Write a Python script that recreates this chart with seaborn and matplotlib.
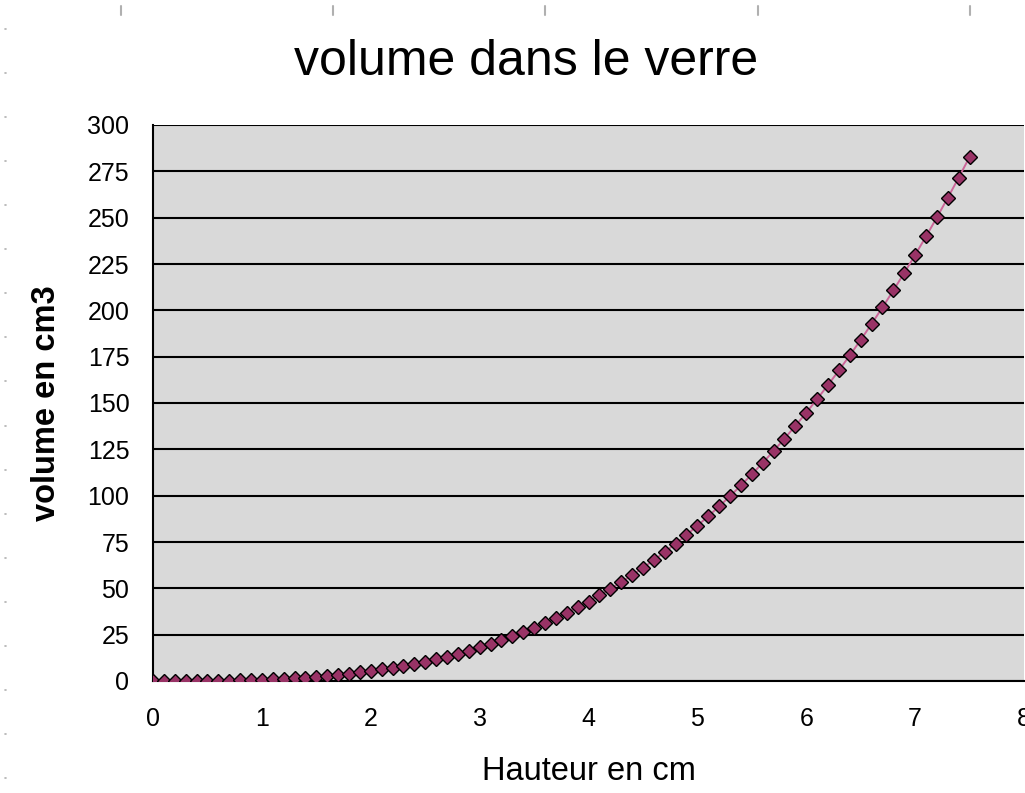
import matplotlib
matplotlib.use("Agg")
import matplotlib.pyplot as plt
import seaborn as sns
from matplotlib.lines import Line2D

# hauteur (cm) et volume (cm3)
hauteur = [0.0, 0.1, 0.2, 0.3, 0.4, 0.5, 0.6, 0.7, 0.8, 0.9,
           1.0, 1.1, 1.2, 1.3, 1.4, 1.5, 1.6, 1.7, 1.8, 1.9,
           2.0, 2.1, 2.2, 2.3, 2.4, 2.5, 2.6, 2.7, 2.8, 2.9,
           3.0, 3.1, 3.2, 3.3, 3.4, 3.5, 3.6, 3.7, 3.8, 3.9,
           4.0, 4.1, 4.2, 4.3, 4.4, 4.5, 4.6, 4.7, 4.8, 4.9,
           5.0, 5.1, 5.2, 5.3, 5.4, 5.5, 5.6, 5.7, 5.8, 5.9,
           6.0, 6.1, 6.2, 6.3, 6.4, 6.5, 6.6, 6.7, 6.8, 6.9,
           7.0, 7.1, 7.2, 7.3, 7.4, 7.5]
volume = [0.00, 0.00, 0.01, 0.02, 0.04, 0.08, 0.14, 0.23, 0.34, 0.49,
          0.67, 0.89, 1.16, 1.47, 1.84, 2.26, 2.75, 3.29, 3.91, 4.60,
          5.36, 6.21, 7.14, 8.15, 9.26, 10.47, 11.78, 13.19, 14.71, 16.35,
          18.10, 19.97, 21.96, 24.09, 26.34, 28.74, 31.27, 33.95, 36.78, 39.76,
          42.89, 46.19, 49.65, 53.29, 57.09, 61.07, 65.23, 69.58, 74.12, 78.85,
          83.78, 88.90, 94.24, 99.78, 105.53, 111.50, 117.70, 124.12, 130.76, 137.65,
          144.76, 152.12, 159.73, 167.58, 175.69, 184.05, 192.68, 201.57, 210.73, 220.17,
          229.88, 239.87, 250.15, 260.72, 271.58, 282.74]
y_ticks = [0, 25, 50, 75, 100, 125, 150, 175, 200, 225, 250, 275, 300]
x_ticks = [0, 1, 2, 3, 4, 5, 6, 7, 8]

sns.set_style("white")
plt.rcParams["font.family"] = ["Liberation Sans", "DejaVu Sans"]
plt.rcParams["text.color"] = "black"
plt.rcParams["axes.labelcolor"] = "black"

W, H = 1025, 793
fig = plt.figure(figsize=(W / 100, H / 100), dpi=100)
ax = fig.add_axes([153 / W, 1 - 681 / H, (1024 - 153) / W, (681 - 125) / H])
ax.set_facecolor("#d9d9d9")

sns.lineplot(x=hauteur, y=volume, ax=ax, color="#cc6699", linewidth=1.4,
             marker="D", markersize=7.5, markerfacecolor="#993366",
             markeredgecolor="black", markeredgewidth=1.0, zorder=3)

ax.set_xlim(0, 8)
ax.set_ylim(0, 300)
ax.set_xticks(x_ticks)
ax.set_yticks(y_ticks)
ax.grid(axis="y", color="black", linewidth=1.5)
ax.grid(axis="x", visible=False)
ax.set_axisbelow(True)
for side in ["top", "right"]:
    ax.spines[side].set_visible(False)
for side in ["left", "bottom"]:
    ax.spines[side].set_color("black")
    ax.spines[side].set_linewidth(1.5)
ax.tick_params(axis="both", direction="out", length=10, width=1.5,
               color="black", labelsize=18, labelcolor="black")
ax.tick_params(axis="y", pad=7)
ax.tick_params(axis="x", pad=9)

ax.set_xlabel("Hauteur en cm", fontsize=23.5, labelpad=18)
ax.set_ylabel("volume en cm3", fontsize=23.5, fontweight="bold", labelpad=18)
fig.text(526 / W, 1 - 62 / H, "volume dans le verre", fontsize=36,
         ha="center", va="center", color="black")

# petites marques de la règle autour de la capture
for x in [121, 333, 545, 758, 970]:
    fig.add_artist(Line2D([x / W, x / W], [1 - 6 / H, 1 - 15 / H],
                          color="#b0b0b0", linewidth=1.5))
for i in range(18):
    y = 29 + i * 44.06
    fig.add_artist(Line2D([4.5 / W, 5.5 / W], [1 - y / H, 1 - y / H],
                          color="#b0b0b0", linewidth=1.2))

fig.savefig("out.png", dpi=100)
